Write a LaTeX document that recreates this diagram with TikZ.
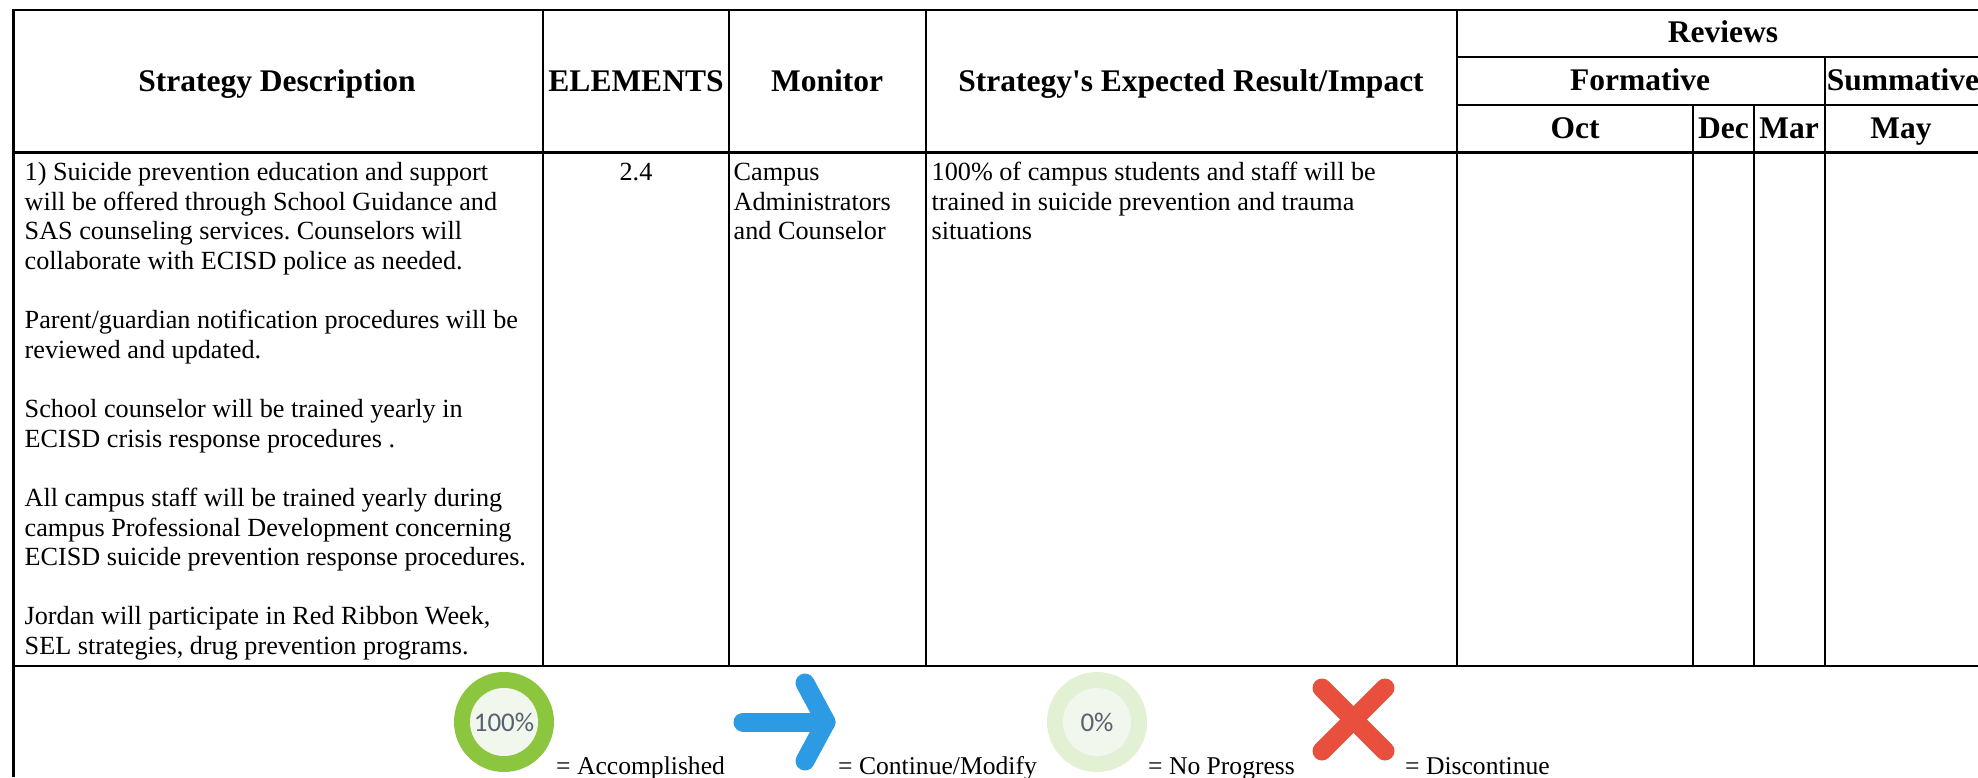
\documentclass[tikz,border=0pt]{standalone}
\usepackage{fontspec}
\setmainfont{Liberation Serif}
\newfontfamily\iconfont{Carlito}
\frenchspacing
\definecolor{ringgreen}{HTML}{8CC63F}
\definecolor{ringpale}{HTML}{E2F0D4}
\definecolor{ringfill}{HTML}{F1F7EC}
\definecolor{arrowblue}{HTML}{2C9BE3}
\definecolor{crossred}{HTML}{E94F3D}
\definecolor{icontext}{HTML}{56626F}
\tikzset{
  grid/.style={line width=2.2pt,black},
  head/.style={font=\bfseries\fontsize{31.5}{34}\selectfont,inner sep=0pt,anchor=base},
  body/.style={font=\fontsize{26.2}{29.64}\selectfont,inner sep=0pt,anchor=north west,align=left},
  legend/.style={font=\fontsize{25.6}{30}\selectfont,inner sep=0pt,anchor=base west},
  icontxt/.style={font=\iconfont\fontsize{27}{30}\selectfont,text=icontext,inner sep=0pt},
  iconline/.style={line width=19pt,line cap=round,line join=round}
}
\begin{document}
\begin{tikzpicture}[x=1pt,y=-1pt]
\useasboundingbox (0,0) rectangle (1978,777);
\fill[white] (0,0) rectangle (1978,777);
% grid
\draw[grid] (1978,10) -- (13.5,10) -- (13.5,777);
\draw[grid] (1457,57) -- (1978,57);
\draw[grid] (1457,105) -- (1978,105);
\draw[grid] (13.5,152.5) -- (1978,152.5);
\draw[grid] (13.5,666) -- (1978,666);
\foreach \x in {543,729,926,1457} \draw[grid] (\x,10) -- (\x,666);
\foreach \x in {1693,1754} \draw[grid] (\x,105) -- (\x,666);
\draw[grid] (1825,57) -- (1825,666);
% headers
\node[head] (h1) at (277,91) {Strategy Description};
\node[head] (h2) at (636,91) {ELEMENTS};
\node[head] (h3) at (827,91) {Monitor};
\node[head] (h4) at (1191,91) {Strategy\textquotesingle s Expected Result/Impact};
\node[head] (h5) at (1723,42) {Reviews};
\node[head] (h6) at (1640,90) {Formative};
\node[head] (h7) at (1903,90) {Summative};
\node[head] (h8) at (1575,138) {Oct};
\node[head] (h9) at (1723.5,138) {Dec};
\node[head] (h10) at (1789,138) {Mar};
\node[head] (h11) at (1901,138) {May};
% body
\node[body] (b1) at (24.5,162) {1) Suicide prevention education and support\\
will be offered through School Guidance and\\
SAS counseling services. Counselors will\\
collaborate with ECISD police as needed.\\
~\\
Parent/guardian notification procedures will be\\
reviewed and updated.\\
~\\
School counselor will be trained yearly in\\
ECISD crisis response procedures .\\
~\\
All campus staff will be trained yearly during\\
campus Professional Development concerning\\
ECISD suicide prevention response procedures.\\
~\\
Jordan will participate in Red Ribbon Week,\\
SEL strategies, drug prevention programs.};
\node[body,anchor=base] (b2) at (636,180.5) {2.4};
\node[body] (b3) at (733.5,163) {Campus\\Administrators\\and Counselor};
\node[body] (b4) at (931.5,162) {100\% of campus students and staff will be\\
trained in suicide prevention and trauma\\
situations};
% legend icons
\fill[ringgreen] (504,722) circle (50);
\fill[ringfill] (504,722) circle (34);
\node[icontxt] (i1) at (504,722) {100\%};
\draw[iconline,arrowblue] (743,722) -- (826,722);
\draw[iconline,arrowblue] (805,683) -- (826,722) -- (805,761);
\fill[ringpale] (1097,722) circle (50);
\fill[ringfill] (1097,722) circle (34);
\node[icontxt] (i2) at (1097,722) {0\%};
\draw[iconline,crossred] (1322,688) -- (1385,751);
\draw[iconline,crossred] (1385,688) -- (1322,751);
% legend text
\node[legend] (l1) at (556,774) {= Accomplished};
\node[legend] (l2) at (838,774) {= Continue/Modify};
\node[legend] (l3) at (1148,774) {= No Progress};
\node[legend] (l4) at (1405,774) {= Discontinue};
\end{tikzpicture}
\end{document}
